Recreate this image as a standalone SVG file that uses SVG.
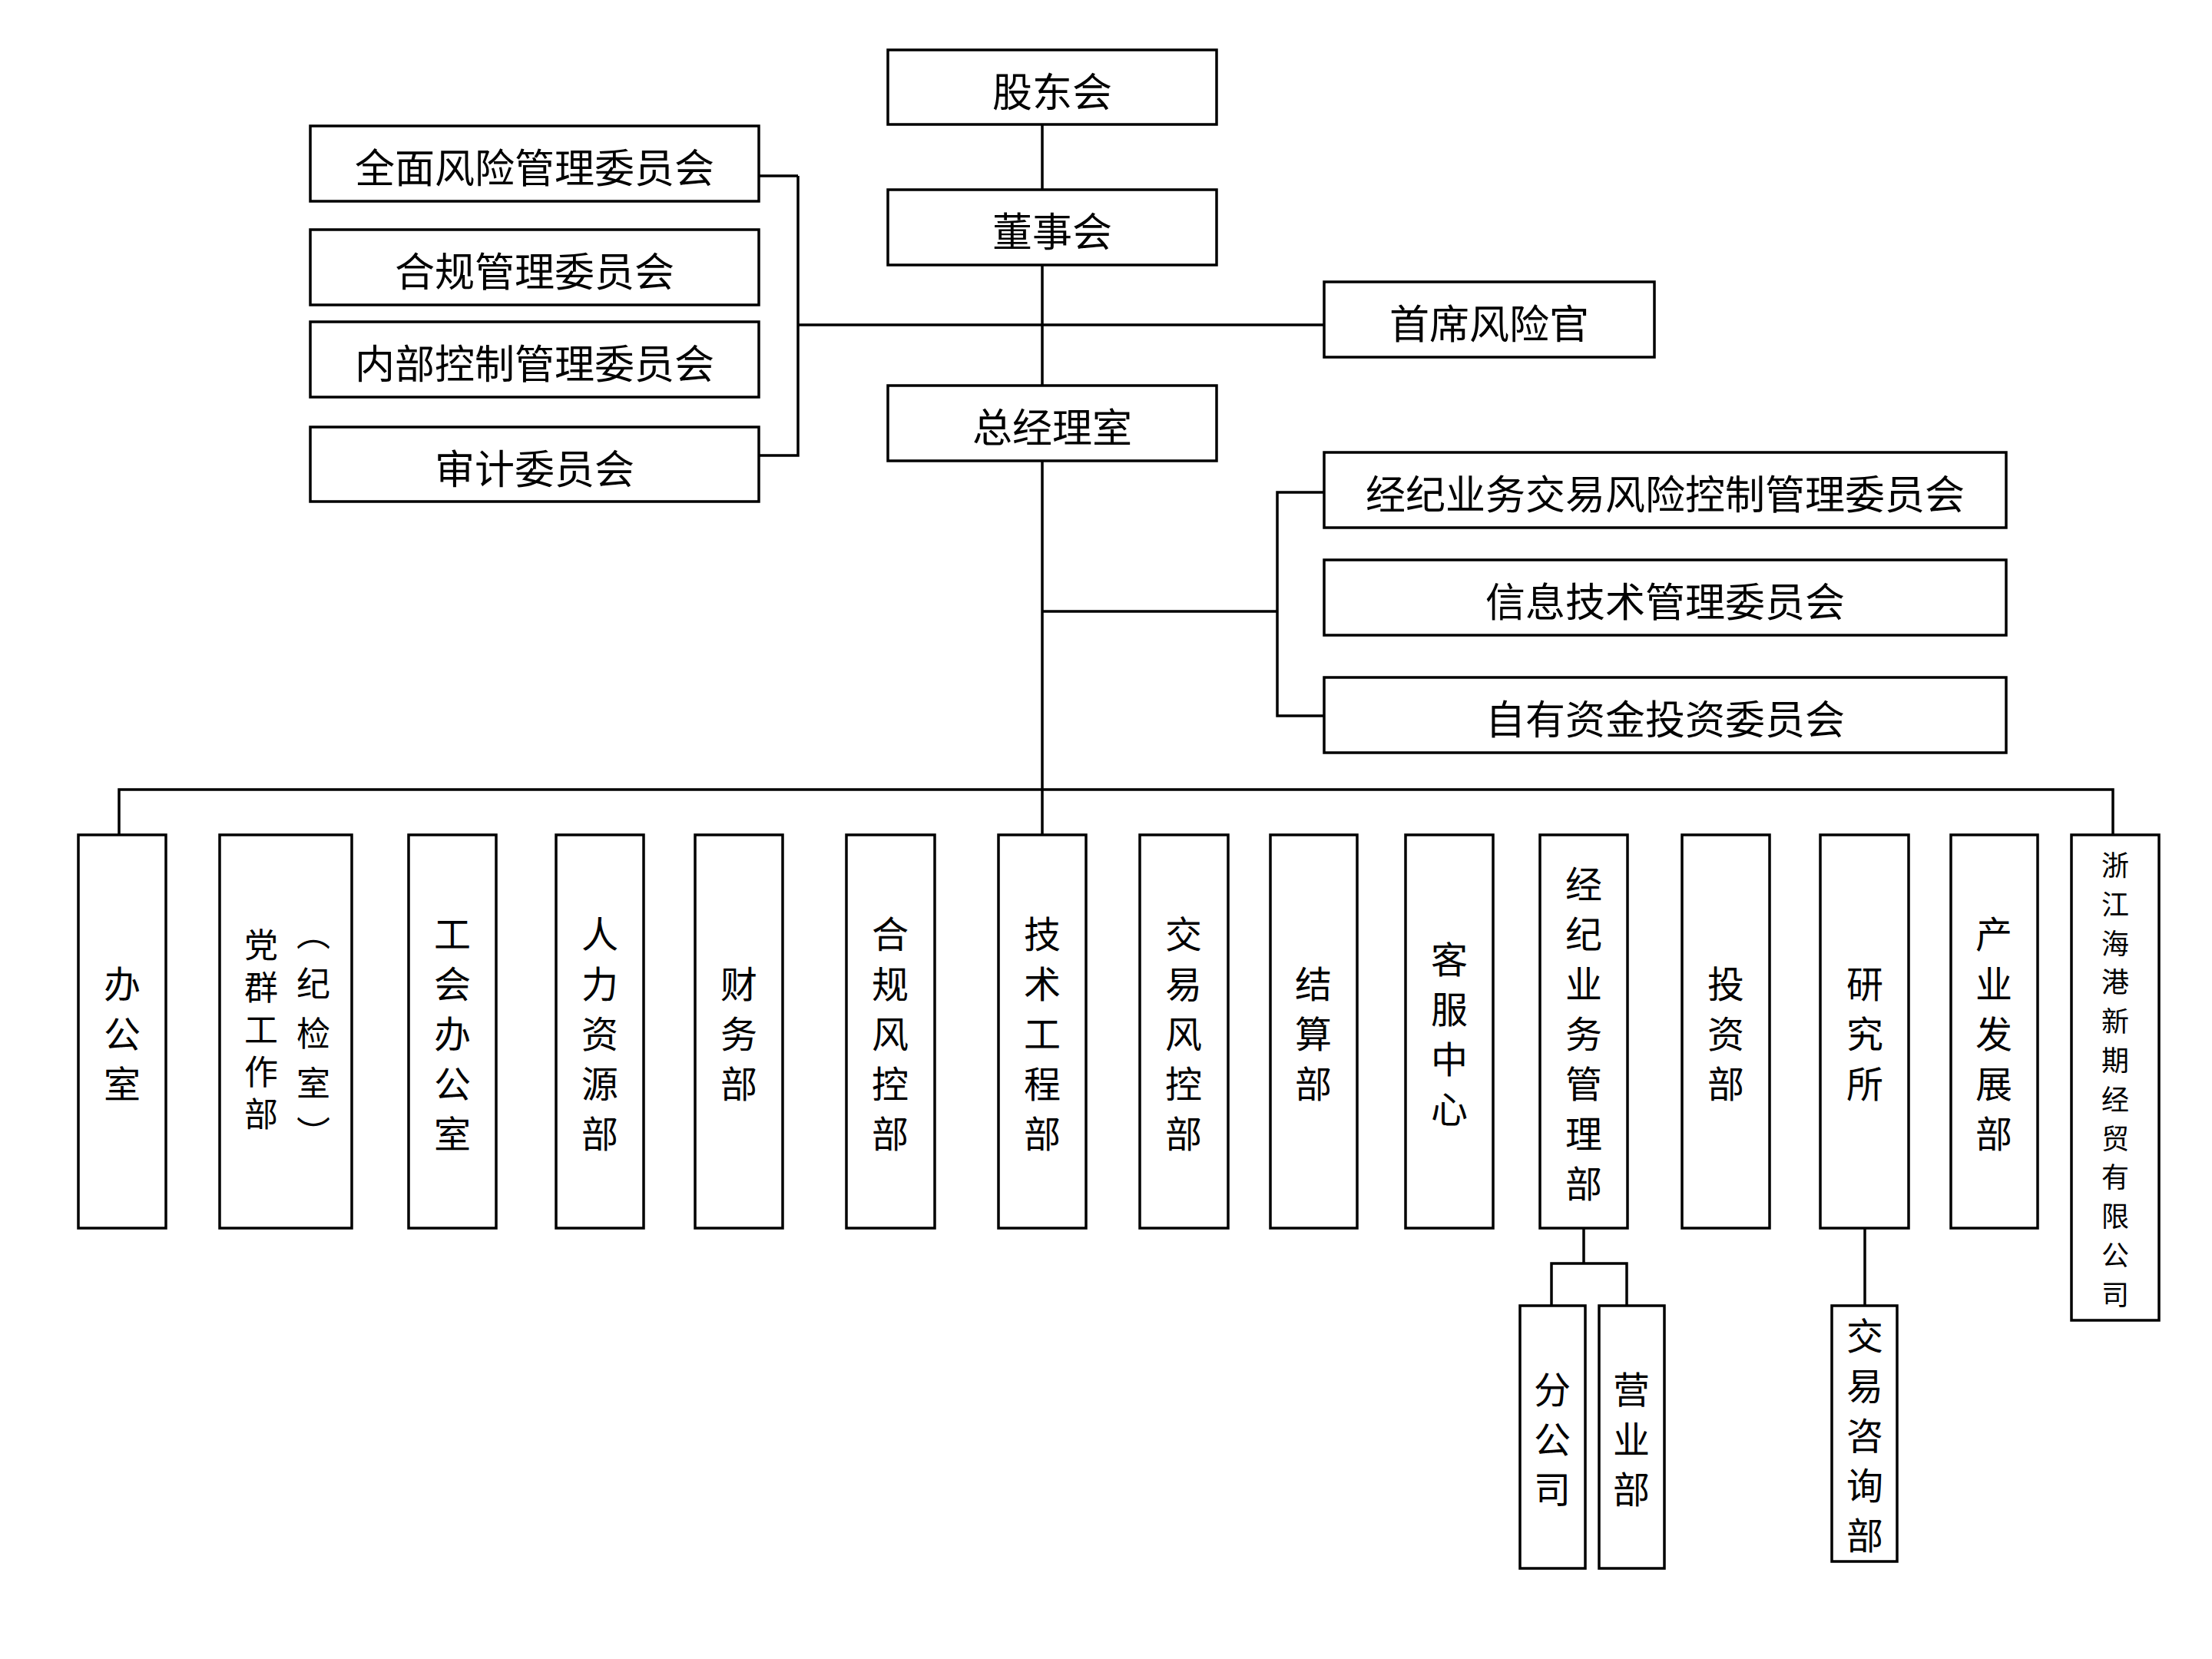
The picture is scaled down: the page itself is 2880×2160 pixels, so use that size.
<svg xmlns="http://www.w3.org/2000/svg" width="2880" height="2160" viewBox="0 0 2880 2160">
<style>
rect{fill:#fff;stroke:#000;stroke-width:3.5}
#connectors path{fill:none;stroke:#000;stroke-width:3.5}
text{font-family:"Noto Sans CJK SC","Noto Sans",sans-serif;font-size:48px;fill:#000;text-anchor:middle;dominant-baseline:central}
.h{font-size:52px}
.s{font-size:36px}
.p{font-size:44px}
</style>
<rect x="0" y="0" width="2880" height="2160" style="stroke:none"/>
<g id="connectors">
<path d="M1357 162V589M1357 600V1087"/>
<path d="M1039 229H988M1039 229V593H988M1039 423H1724"/>
<path d="M1357 796H1663M1724 641H1663V932H1724"/>
<path d="M155 1087V1028H2751V1087"/>
<path d="M2062 1599V1645M2020 1700V1645H2118V1700"/>
<path d="M2428 1599V1700"/>
</g>
<g id="gdh"><rect x="1156" y="65" width="428" height="97"/><text class="h" x="1370" y="116">股东会</text></g>
<g id="dsh"><rect x="1156" y="247" width="428" height="98"/><text class="h" x="1370" y="298">董事会</text></g>
<g id="sxfxg"><rect x="1724" y="367" width="430" height="98"/><text class="h" x="1939" y="418">首席风险官</text></g>
<g id="zjls"><rect x="1156" y="502" width="428" height="98"/><text class="h" x="1370" y="553">总经理室</text></g>
<g id="c1"><rect x="404" y="164" width="584" height="98"/><text class="h" x="696" y="215">全面风险管理委员会</text></g>
<g id="c2"><rect x="404" y="299" width="584" height="98"/><text class="h" x="696" y="350">合规管理委员会</text></g>
<g id="c3"><rect x="404" y="419" width="584" height="98"/><text class="h" x="696" y="470">内部控制管理委员会</text></g>
<g id="c4"><rect x="404" y="556" width="584" height="97"/><text class="h" x="696" y="607">审计委员会</text></g>
<g id="r1"><rect x="1724" y="589" width="888" height="98"/><text class="h" x="2168" y="640">经纪业务交易风险控制管理委员会</text></g>
<g id="r2"><rect x="1724" y="729" width="888" height="98"/><text class="h" x="2168" y="780">信息技术管理委员会</text></g>
<g id="r3"><rect x="1724" y="882" width="888" height="98"/><text class="h" x="2168" y="933">自有资金投资委员会</text></g>
<g id="d1"><rect x="102" y="1087" width="114" height="512"/><text><tspan x="159" y="1278">办</tspan><tspan x="159" y="1343">公</tspan><tspan x="159" y="1408">室</tspan></text></g>
<g id="d2"><rect x="286" y="1087" width="172" height="512"/><text class="p"><tspan x="408" y="1213">︵</tspan><tspan x="408" y="1278">纪</tspan><tspan x="408" y="1343">检</tspan><tspan x="408" y="1408">室</tspan><tspan x="408" y="1473">︶</tspan></text><text class="p"><tspan x="340" y="1228">党</tspan><tspan x="340" y="1283">群</tspan><tspan x="340" y="1338">工</tspan><tspan x="340" y="1393">作</tspan><tspan x="340" y="1448">部</tspan></text></g>
<g id="d3"><rect x="532" y="1087" width="114" height="512"/><text><tspan x="589" y="1213">工</tspan><tspan x="589" y="1278">会</tspan><tspan x="589" y="1343">办</tspan><tspan x="589" y="1408">公</tspan><tspan x="589" y="1473">室</tspan></text></g>
<g id="d4"><rect x="724" y="1087" width="114" height="512"/><text><tspan x="781" y="1213">人</tspan><tspan x="781" y="1278">力</tspan><tspan x="781" y="1343">资</tspan><tspan x="781" y="1408">源</tspan><tspan x="781" y="1473">部</tspan></text></g>
<g id="d5"><rect x="905" y="1087" width="114" height="512"/><text><tspan x="962" y="1278">财</tspan><tspan x="962" y="1343">务</tspan><tspan x="962" y="1408">部</tspan></text></g>
<g id="d6"><rect x="1102" y="1087" width="115" height="512"/><text><tspan x="1159" y="1213">合</tspan><tspan x="1159" y="1278">规</tspan><tspan x="1159" y="1343">风</tspan><tspan x="1159" y="1408">控</tspan><tspan x="1159" y="1473">部</tspan></text></g>
<g id="d7"><rect x="1300" y="1087" width="114" height="512"/><text><tspan x="1357" y="1213">技</tspan><tspan x="1357" y="1278">术</tspan><tspan x="1357" y="1343">工</tspan><tspan x="1357" y="1408">程</tspan><tspan x="1357" y="1473">部</tspan></text></g>
<g id="d8"><rect x="1484" y="1087" width="115" height="512"/><text><tspan x="1541" y="1213">交</tspan><tspan x="1541" y="1278">易</tspan><tspan x="1541" y="1343">风</tspan><tspan x="1541" y="1408">控</tspan><tspan x="1541" y="1473">部</tspan></text></g>
<g id="d9"><rect x="1654" y="1087" width="113" height="512"/><text><tspan x="1710" y="1278">结</tspan><tspan x="1710" y="1343">算</tspan><tspan x="1710" y="1408">部</tspan></text></g>
<g id="d10"><rect x="1830" y="1087" width="114" height="512"/><text><tspan x="1887" y="1246">客</tspan><tspan x="1887" y="1311">服</tspan><tspan x="1887" y="1376">中</tspan><tspan x="1887" y="1441">心</tspan></text></g>
<g id="d11"><rect x="2005" y="1087" width="114" height="512"/><text><tspan x="2062" y="1148">经</tspan><tspan x="2062" y="1213">纪</tspan><tspan x="2062" y="1278">业</tspan><tspan x="2062" y="1343">务</tspan><tspan x="2062" y="1408">管</tspan><tspan x="2062" y="1473">理</tspan><tspan x="2062" y="1538">部</tspan></text></g>
<g id="d12"><rect x="2190" y="1087" width="114" height="512"/><text><tspan x="2247" y="1278">投</tspan><tspan x="2247" y="1343">资</tspan><tspan x="2247" y="1408">部</tspan></text></g>
<g id="d13"><rect x="2370" y="1087" width="115" height="512"/><text><tspan x="2428" y="1278">研</tspan><tspan x="2428" y="1343">究</tspan><tspan x="2428" y="1408">所</tspan></text></g>
<g id="d14"><rect x="2540" y="1087" width="113" height="512"/><text><tspan x="2596" y="1213">产</tspan><tspan x="2596" y="1278">业</tspan><tspan x="2596" y="1343">发</tspan><tspan x="2596" y="1408">展</tspan><tspan x="2596" y="1473">部</tspan></text></g>
<g id="d15"><rect x="2697" y="1087" width="114" height="632"/><text class="s"><tspan x="2754" y="1124">浙</tspan><tspan x="2754" y="1175">江</tspan><tspan x="2754" y="1226">海</tspan><tspan x="2754" y="1276">港</tspan><tspan x="2754" y="1327">新</tspan><tspan x="2754" y="1378">期</tspan><tspan x="2754" y="1429">经</tspan><tspan x="2754" y="1480">贸</tspan><tspan x="2754" y="1530">有</tspan><tspan x="2754" y="1581">限</tspan><tspan x="2754" y="1632">公</tspan><tspan x="2754" y="1683">司</tspan></text></g>
<g id="s1"><rect x="1979" y="1700" width="85" height="342"/><text><tspan x="2021" y="1806">分</tspan><tspan x="2021" y="1871">公</tspan><tspan x="2021" y="1936">司</tspan></text></g>
<g id="s2"><rect x="2082" y="1700" width="85" height="342"/><text><tspan x="2124" y="1806">营</tspan><tspan x="2124" y="1871">业</tspan><tspan x="2124" y="1936">部</tspan></text></g>
<g id="s3"><rect x="2385" y="1700" width="85" height="333"/><text><tspan x="2428" y="1736">交</tspan><tspan x="2428" y="1801">易</tspan><tspan x="2428" y="1866">咨</tspan><tspan x="2428" y="1931">询</tspan><tspan x="2428" y="1996">部</tspan></text></g>
</svg>
